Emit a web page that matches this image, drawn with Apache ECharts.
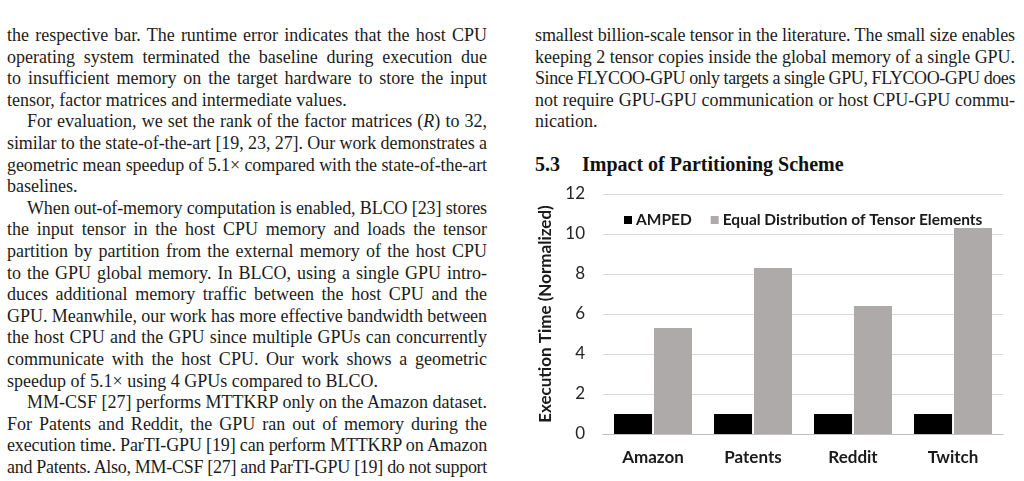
<!DOCTYPE html>
<html>
<head>
<meta charset="utf-8">
<script src="https://cdn.jsdelivr.net/npm/echarts/dist/echarts.min.js"></script>
<style>
  html, body { margin: 0; padding: 0; background: #fff; }
  body { width: 1024px; height: 481px; position: relative; overflow: hidden; }
  .col { position: absolute; top: 25px; width: 480px; font-family: "Liberation Serif", serif;
         font-size: 18px; line-height: 21.6px; color: #1c1c1c; }
  .col div { white-space: nowrap; }
  .col div.j { text-align: justify; text-align-last: justify; }
  .col div.ind { padding-left: 20px; }
  #left { left: 7px; }
  #right { left: 535px; }
  #heading { position: absolute; left: 535px; top: 153px; font-family: "Liberation Serif", serif;
             font-weight: bold; font-size: 20px; color: #111; white-space: nowrap; }
  #heading span { margin-right: 22px; }
  #chart { position: absolute; left: 520px; top: 176px; width: 504px; height: 305px; }
</style>
</head>
<body>
<div class="col" id="left"></div>
<div class="col" id="right"></div>
<div id="heading"><span>5.3</span>Impact of Partitioning Scheme</div>
<div id="chart"></div>
<script>
// body text, line by line as in the paper ([text, justified, indented])
var leftLines = [
  ['the respective bar. The runtime error indicates that the host CPU', 1, 0],
  ['operating system terminated the baseline during execution due', 1, 0],
  ['to insufficient memory on the target hardware to store the input', 1, 0],
  ['tensor, factor matrices and intermediate values.', 0, 0],
  ['For evaluation, we set the rank of the factor matrices (<i>R</i>) to 32,', 1, 1],
  ['similar to the state-of-the-art [19, 23, 27]. Our work demonstrates a', 1, 0],
  ['geometric mean speedup of 5.1× compared with the state-of-the-art', 1, 0],
  ['baselines.', 0, 0],
  ['When out-of-memory computation is enabled, BLCO [23] stores', 1, 1],
  ['the input tensor in the host CPU memory and loads the tensor', 1, 0],
  ['partition by partition from the external memory of the host CPU', 1, 0],
  ['to the GPU global memory. In BLCO, using a single GPU intro-', 1, 0],
  ['duces additional memory traffic between the host CPU and the', 1, 0],
  ['GPU. Meanwhile, our work has more effective bandwidth between', 1, 0],
  ['the host CPU and the GPU since multiple GPUs can concurrently', 1, 0],
  ['communicate with the host CPU. Our work shows a geometric', 1, 0],
  ['speedup of 5.1× using 4 GPUs compared to BLCO.', 0, 0],
  ['MM-CSF [27] performs MTTKRP only on the Amazon dataset.', 1, 1],
  ['For Patents and Reddit, the GPU ran out of memory during the', 1, 0],
  ['execution time. ParTI-GPU [19] can perform MTTKRP on Amazon', 1, 0],
  ['and Patents. Also, MM-CSF [27] and ParTI-GPU [19] do not support', 1, 0]
];
var rightLines = [
  ['smallest billion-scale tensor in the literature. The small size enables', 1, 0],
  ['keeping 2 tensor copies inside the global memory of a single GPU.', 1, 0],
  ['Since FLYCOO-GPU only targets a single GPU, FLYCOO-GPU does', 1, 0],
  ['not require GPU-GPU communication or host CPU-GPU commu-', 1, 0],
  ['nication.', 0, 0]
];

// chart data
var categories = ['Amazon', 'Patents', 'Reddit', 'Twitch'];
var ampedValues = [1, 1, 1, 1];
var equalDistValues = [5.3, 8.3, 6.4, 10.3];
var seriesNames = ['AMPED', 'Equal Distribution of Tensor Elements'];
var yTicks = [0, 2, 4, 6, 8, 10, 12];

function fillColumn(el, lines, width) {
  lines.forEach(function (l) {
    var d = document.createElement('div');
    if (l[1]) d.className = 'j';
    if (l[2]) d.className += ' ind';
    var s = document.createElement('span');
    s.innerHTML = l[0];
    d.appendChild(s);
    el.appendChild(d);
    // squeeze lines that are wider than the column
    var avail = width - (l[2] ? 20 : 0);
    var w = s.getBoundingClientRect().width;
    if (w > avail) {
      s.style.letterSpacing = ((avail - w) / s.textContent.length).toFixed(3) + 'px';
    }
  });
}
fillColumn(document.getElementById('left'), leftLines, 480);
fillColumn(document.getElementById('right'), rightLines, 480);

var myChart = echarts.init(document.getElementById('chart'));
var font = 'Lato, "Open Sans", sans-serif';

var option = {
  animation: false,
  textStyle: { fontFamily: font },
  legend: {
    left: 99,
    top: 31,
    itemWidth: 8,
    itemHeight: 8,
    itemGap: 19,
    icon: 'rect',
    textStyle: { fontFamily: font, fontSize: 15.5, fontWeight: 'bold', color: '#1a1a1a', padding: [0, 0, 0, -1] },
    data: seriesNames
  },
  grid: { left: 83, right: 21, top: 18, height: 240 },
  xAxis: {
    type: 'category',
    data: categories,
    axisTick: { show: false },
    axisLine: { lineStyle: { color: '#bfbfbf', width: 1 } },
    axisLabel: { margin: 15, fontFamily: font, fontSize: 17, fontWeight: 'bold', color: '#1a1a1a' }
  },
  yAxis: {
    type: 'value',
    min: yTicks[0],
    max: yTicks[yTicks.length - 1],
    interval: 2,
    name: 'Execution Time (Normalized)',
    nameLocation: 'middle',
    nameRotate: 90,
    nameGap: 29,
    nameTextStyle: { fontFamily: font, fontSize: 17, fontWeight: 'bold', color: '#1a1a1a' },
    axisLine: { show: false },
    axisTick: { show: false },
    splitLine: { lineStyle: { color: '#d9d9d9', width: 1 } },
    axisLabel: { margin: 18, fontFamily: font, fontSize: 17, color: '#262626' }
  },
  series: [{
    name: seriesNames[0],
    type: 'bar',
    data: ampedValues,
    barCategoryGap: '22%',
    barGap: '5%',
    itemStyle: { color: '#000000' }
  }, {
    name: seriesNames[1],
    type: 'bar',
    data: equalDistValues,
    itemStyle: { color: '#aeaaaa' }
  }]
};
myChart.setOption(option);
</script>
</body>
</html>
